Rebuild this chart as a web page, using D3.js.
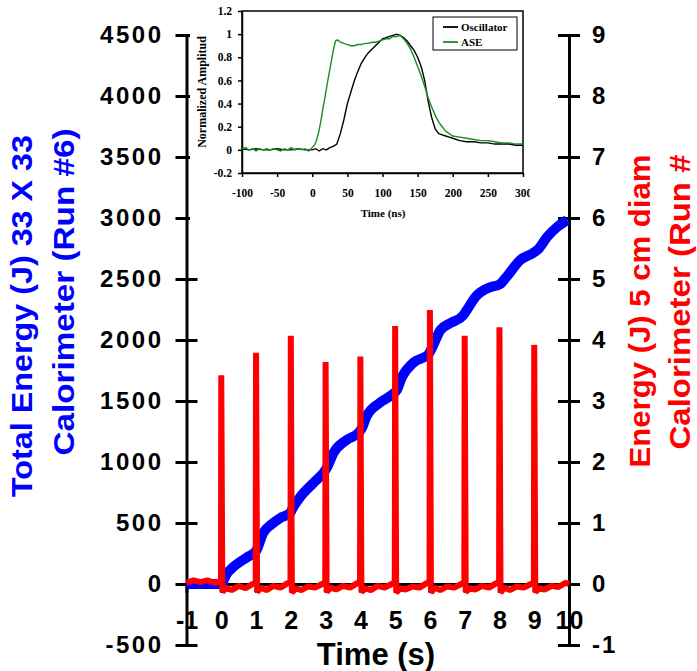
<!DOCTYPE html>
<html>
<head>
<meta charset="utf-8">
<script src="https://cdn.jsdelivr.net/npm/d3@7"></script>
<style>
body { margin: 0; background: #fff; }
</style>
</head>
<body>
<svg id="chart" width="697" height="671"></svg>
<script>
// ---- data ----
var xTicks = [-1, 0, 1, 2, 3, 4, 5, 6, 7, 8, 9, 10]
var leftTicks = [-500, 0, 500, 1000, 1500, 2000, 2500, 3000, 3500, 4000, 4500]
var rightTicks = [-1, 0, 1, 2, 3, 4, 5, 6, 7, 8, 9]

// total energy, 33 x 33 calorimeter (J) vs time (s)
var totalEnergy = [[-1,0],[0,0],[0.05,20],[0.15,80],[0.35,140],[0.75,221],[1.0,270],[1.05,300],[1.2,415],[1.45,490],
  [1.7,541],[1.98,582],[2.05,620],[2.27,713],[2.65,828],[2.95,915],[3.05,960],[3.22,1070],[3.6,1180],[3.95,1240],
  [4.05,1280],[4.17,1369],[4.55,1484],[4.9,1549],[5.05,1590],[5.2,1697],[5.55,1820],[5.95,1880],[6.05,1930],[6.3,2080],
  [6.6,2140],[6.95,2200],[7.05,2240],[7.3,2350],[7.75,2434],[8.0,2455],[8.2,2516],[8.6,2656],[8.95,2710],[9.1,2740],
  [9.37,2845],[9.66,2926],[9.95,2984]]

// energy, 5 cm diam calorimeter (J) vs time (s)
var shotEnergy = [[-1,0.02],[-0.8,0.06],[-0.6,0.03],[-0.4,0.06],[-0.2,0.02],[-0.01,0.04],
  [0,3.42],[0.03,-0.13],[0.15,-0.06],[0.3,-0.1],[0.5,-0.03],[0.7,-0.07],[0.9,0.0],[0.99,0.02],
  [1,3.79],[1.03,-0.13],[1.15,-0.06],[1.3,-0.1],[1.5,-0.03],[1.7,-0.06],[1.9,0.01],[1.99,0.03],
  [2,4.07],[2.03,-0.14],[2.15,-0.07],[2.3,-0.1],[2.5,-0.04],[2.7,-0.06],[2.9,0.0],[2.99,0.03],
  [3,3.64],[3.03,-0.13],[3.15,-0.06],[3.3,-0.09],[3.5,-0.03],[3.7,-0.06],[3.9,0.01],[3.99,0.03],
  [4,3.73],[4.03,-0.13],[4.15,-0.07],[4.3,-0.1],[4.5,-0.03],[4.7,-0.06],[4.9,0.0],[4.99,0.03],
  [5,4.23],[5.03,-0.14],[5.15,-0.07],[5.3,-0.09],[5.5,-0.04],[5.7,-0.06],[5.9,0.01],[5.99,0.03],
  [6,4.49],[6.03,-0.14],[6.15,-0.06],[6.3,-0.1],[6.5,-0.04],[6.7,-0.06],[6.9,0.0],[6.99,0.03],
  [7,4.07],[7.03,-0.13],[7.15,-0.07],[7.3,-0.09],[7.5,-0.03],[7.7,-0.06],[7.9,0.01],[7.99,0.03],
  [8,4.21],[8.03,-0.14],[8.15,-0.06],[8.3,-0.1],[8.5,-0.04],[8.7,-0.06],[8.9,0.0],[8.99,0.03],
  [9,3.92],[9.03,-0.13],[9.15,-0.07],[9.3,-0.09],[9.5,-0.03],[9.7,-0.05],[9.9,0.02],[10,0.0]]

// inset: normalized amplitude vs time (ns)
var insetXTicks = [-100, -50, 0, 50, 100, 150, 200, 250, 300]
var insetYTicks = [-0.2, 0, 0.2, 0.4, 0.6, 0.8, 1, 1.2]
var oscillator = [[-100,0.01],[-90,0.0],[-80,0.01],[-70,0.0],[-60,0.0],[-50,0.01],[-40,0.0],[-30,0.0],[-20,0.01],
  [-10,0.0],[0,0.0],[5,0.01],[10,-0.01],[15,0.01],[20,0.0],[25,0.02],[30,0.03],[35,0.05],[40,0.14],[45,0.26],
  [50,0.4],[55,0.5],[60,0.6],[65,0.68],[70,0.75],[75,0.8],[80,0.84],[85,0.87],[90,0.9],[95,0.93],[100,0.96],
  [105,0.97],[110,0.98],[115,0.99],[120,1.0],[125,0.99],[130,0.97],[135,0.94],[140,0.9],[145,0.86],[150,0.8],
  [155,0.72],[160,0.6],[165,0.42],[170,0.28],[175,0.18],[180,0.14],[185,0.13],[190,0.12],[195,0.11],[200,0.1],
  [210,0.08],[220,0.07],[230,0.07],[240,0.06],[250,0.06],[260,0.05],[270,0.05],[280,0.05],[290,0.04],[300,0.04]]
var ase = [[-100,0.01],[-95,0.02],[-90,0.0],[-85,0.01],[-80,-0.01],[-75,0.01],[-70,0.0],[-65,0.01],[-60,0.0],
  [-55,0.01],[-50,0.0],[-45,-0.01],[-40,0.01],[-35,0.0],[-30,0.02],[-25,0.0],[-20,0.01],[-15,0.0],[-10,0.01],
  [-5,-0.01],[0,0.02],[3,0.04],[6,0.08],[9,0.15],[12,0.24],[15,0.35],[18,0.45],[21,0.56],[24,0.66],[27,0.76],
  [30,0.86],[33,0.94],[36,0.95],[40,0.93],[45,0.92],[50,0.91],[55,0.9],[60,0.9],[65,0.91],[70,0.91],[75,0.92],
  [80,0.92],[85,0.93],[90,0.93],[95,0.94],[100,0.95],[105,0.96],[110,0.96],[115,0.98],[120,0.98],[125,0.99],
  [130,0.96],[135,0.92],[140,0.87],[145,0.8],[150,0.72],[155,0.64],[160,0.55],[165,0.45],[170,0.37],[175,0.3],
  [180,0.24],[185,0.2],[190,0.16],[195,0.14],[200,0.12],[210,0.11],[220,0.1],[230,0.09],[240,0.08],[250,0.08],
  [260,0.07],[270,0.06],[280,0.06],[290,0.05],[300,0.05]]

var svg = d3.select("#chart")

// ---- main scales ----
var x = d3.scaleLinear().domain([-1, 10]).range([186.5, 569])
var yL = d3.scaleLinear().domain([-500, 4500]).range([645, 35])
var yR = d3.scaleLinear().domain([-1, 9]).range([645, 35])

var font = "Arial, 'Liberation Sans', sans-serif"
var plain = d => String(d)

// left axis
var gL = svg.append("g").attr("transform", "translate(" + x(-1) + ",0)")
  .call(d3.axisLeft(yL).tickValues(leftTicks).tickFormat(plain).tickSize(11).tickPadding(12).tickSizeOuter(0))
gL.select(".domain").attr("stroke-width", 3)
gL.selectAll(".tick line").attr("x1", 11).attr("x2", -11).attr("stroke-width", 3)
gL.selectAll(".tick text").style("font", "bold 24px " + font).attr("fill", "#000").style("letter-spacing", "2.5px")

// right axis
var gR = svg.append("g").attr("transform", "translate(" + x(10) + ",0)")
  .call(d3.axisRight(yR).tickValues(rightTicks).tickFormat(plain).tickSize(11).tickPadding(12).tickSizeOuter(0))
gR.select(".domain").attr("stroke-width", 3)
gR.selectAll(".tick line").attr("x1", -11).attr("x2", 11).attr("stroke-width", 3)
gR.selectAll(".tick text").style("font", "bold 24px " + font).attr("fill", "#000").style("letter-spacing", "2px")

// x axis at zero
var gX = svg.append("g").attr("transform", "translate(0," + yL(0) + ")")
  .call(d3.axisBottom(x).tickValues(xTicks).tickFormat(plain).tickSize(9).tickSizeOuter(0))
gX.select(".domain").attr("stroke-width", 3)
gX.selectAll(".tick line").attr("stroke-width", 3)
gX.selectAll(".tick text").attr("y", 45).attr("dy", null)
  .style("font", "bold 25px " + font).attr("fill", "#000")

// axis titles (stretched to the reference's text lengths)
function title(tx, ty, len, colour, txt) {
  svg.append("text").attr("transform", "translate(" + tx + "," + ty + ") rotate(-90)")
    .attr("text-anchor", "middle").attr("textLength", len).attr("lengthAdjust", "spacingAndGlyphs")
    .style("font", "bold 30px " + font).attr("fill", colour).text(txt)
}
title(32, 316, 362, "#0000FF", "Total Energy (J) 33 X 33")
title(74, 292, 327, "#0000FF", "Calorimeter (Run #6)")
title(650, 311, 313, "#FF0000", "Energy (J) 5 cm diam")
title(690, 302, 295, "#FF0000", "Calorimeter (Run #")

svg.append("text").attr("x", 376).attr("y", 665).attr("text-anchor", "middle")
  .style("font", "bold 31px " + font).attr("fill", "#000").text("Time (s)")

// series
var blueLine = d3.line().x(d => x(d[0])).y(d => yL(d[1])).curve(d3.curveMonotoneX)
svg.append("path").datum(totalEnergy).attr("d", blueLine)
  .attr("fill", "none").attr("stroke", "#0000FF").attr("stroke-width", 10).attr("stroke-linejoin", "round")

var redLine = d3.line().x(d => x(d[0])).y(d => yR(d[1]))
svg.append("path").datum(shotEnergy).attr("d", redLine)
  .attr("fill", "none").attr("stroke", "#FF0000").attr("stroke-width", 6).attr("stroke-linejoin", "bevel")

// ---- inset ----
var ix = d3.scaleLinear().domain([-100, 300]).range([242, 523])
var iy = d3.scaleLinear().domain([-0.2, 1.2]).range([173, 11])
var serif = "'Liberation Serif', 'Times New Roman', serif"

svg.append("clipPath").attr("id", "insetClip")
  .append("rect").attr("x", 190).attr("y", 0).attr("width", 340).attr("height", 226)
var inset = svg.append("g").attr("clip-path", "url(#insetClip)")
inset.append("rect").attr("x", 190).attr("y", 0).attr("width", 340).attr("height", 226).attr("fill", "#fff")
inset.append("rect").attr("x", ix(-100)).attr("y", iy(1.2)).attr("width", ix(300) - ix(-100))
  .attr("height", iy(-0.2) - iy(1.2)).attr("fill", "none").attr("stroke", "#000").attr("stroke-width", 1.5)

var giX = inset.append("g").attr("transform", "translate(0," + iy(-0.2) + ")")
  .call(d3.axisBottom(ix).tickValues(insetXTicks).tickFormat(plain).tickSize(4).tickPadding(12).tickSizeOuter(0))
giX.selectAll(".tick line").attr("stroke-width", 1.5)
giX.selectAll(".tick text").style("font", "bold 11.5px " + serif).attr("fill", "#000")
var giY = inset.append("g").attr("transform", "translate(" + ix(-100) + ",0)")
  .call(d3.axisLeft(iy).tickValues(insetYTicks).tickFormat(plain).tickSize(4).tickPadding(6).tickSizeOuter(0))
giY.selectAll(".tick line").attr("stroke-width", 1.5)
giY.selectAll(".tick text").style("font", "bold 11.5px " + serif).attr("fill", "#000")
giX.select(".domain").attr("stroke-width", 1.5)
giY.select(".domain").attr("stroke-width", 1.5)

inset.append("text").attr("x", 383).attr("y", 217).attr("text-anchor", "middle")
  .style("font", "bold 11px " + serif).text("Time (ns)")
inset.append("text").attr("transform", "translate(206,92) rotate(-90)").attr("text-anchor", "middle")
  .style("font", "bold 12px " + serif).text("Normalized Amplitud")

var iline = d3.line().x(d => ix(d[0])).y(d => iy(d[1]))
inset.append("path").datum(oscillator).attr("d", iline)
  .attr("fill", "none").attr("stroke", "#000").attr("stroke-width", 1.4)
inset.append("path").datum(ase).attr("d", iline)
  .attr("fill", "none").attr("stroke", "#1E8C1E").attr("stroke-width", 1.4)

// legend
inset.append("rect").attr("x", 433).attr("y", 17).attr("width", 84).attr("height", 33)
  .attr("fill", "#fff").attr("stroke", "#000").attr("stroke-width", 1)
inset.append("line").attr("x1", 443).attr("x2", 458).attr("y1", 27).attr("y2", 27).attr("stroke", "#000").attr("stroke-width", 1.8)
inset.append("text").attr("x", 461).attr("y", 31).style("font", "bold 11px " + serif).text("Oscillator")
inset.append("line").attr("x1", 443).attr("x2", 458).attr("y1", 42).attr("y2", 42).attr("stroke", "#1E8C1E").attr("stroke-width", 1.8)
inset.append("text").attr("x", 461).attr("y", 46).style("font", "bold 11px " + serif).text("ASE")
</script>
</body>
</html>
